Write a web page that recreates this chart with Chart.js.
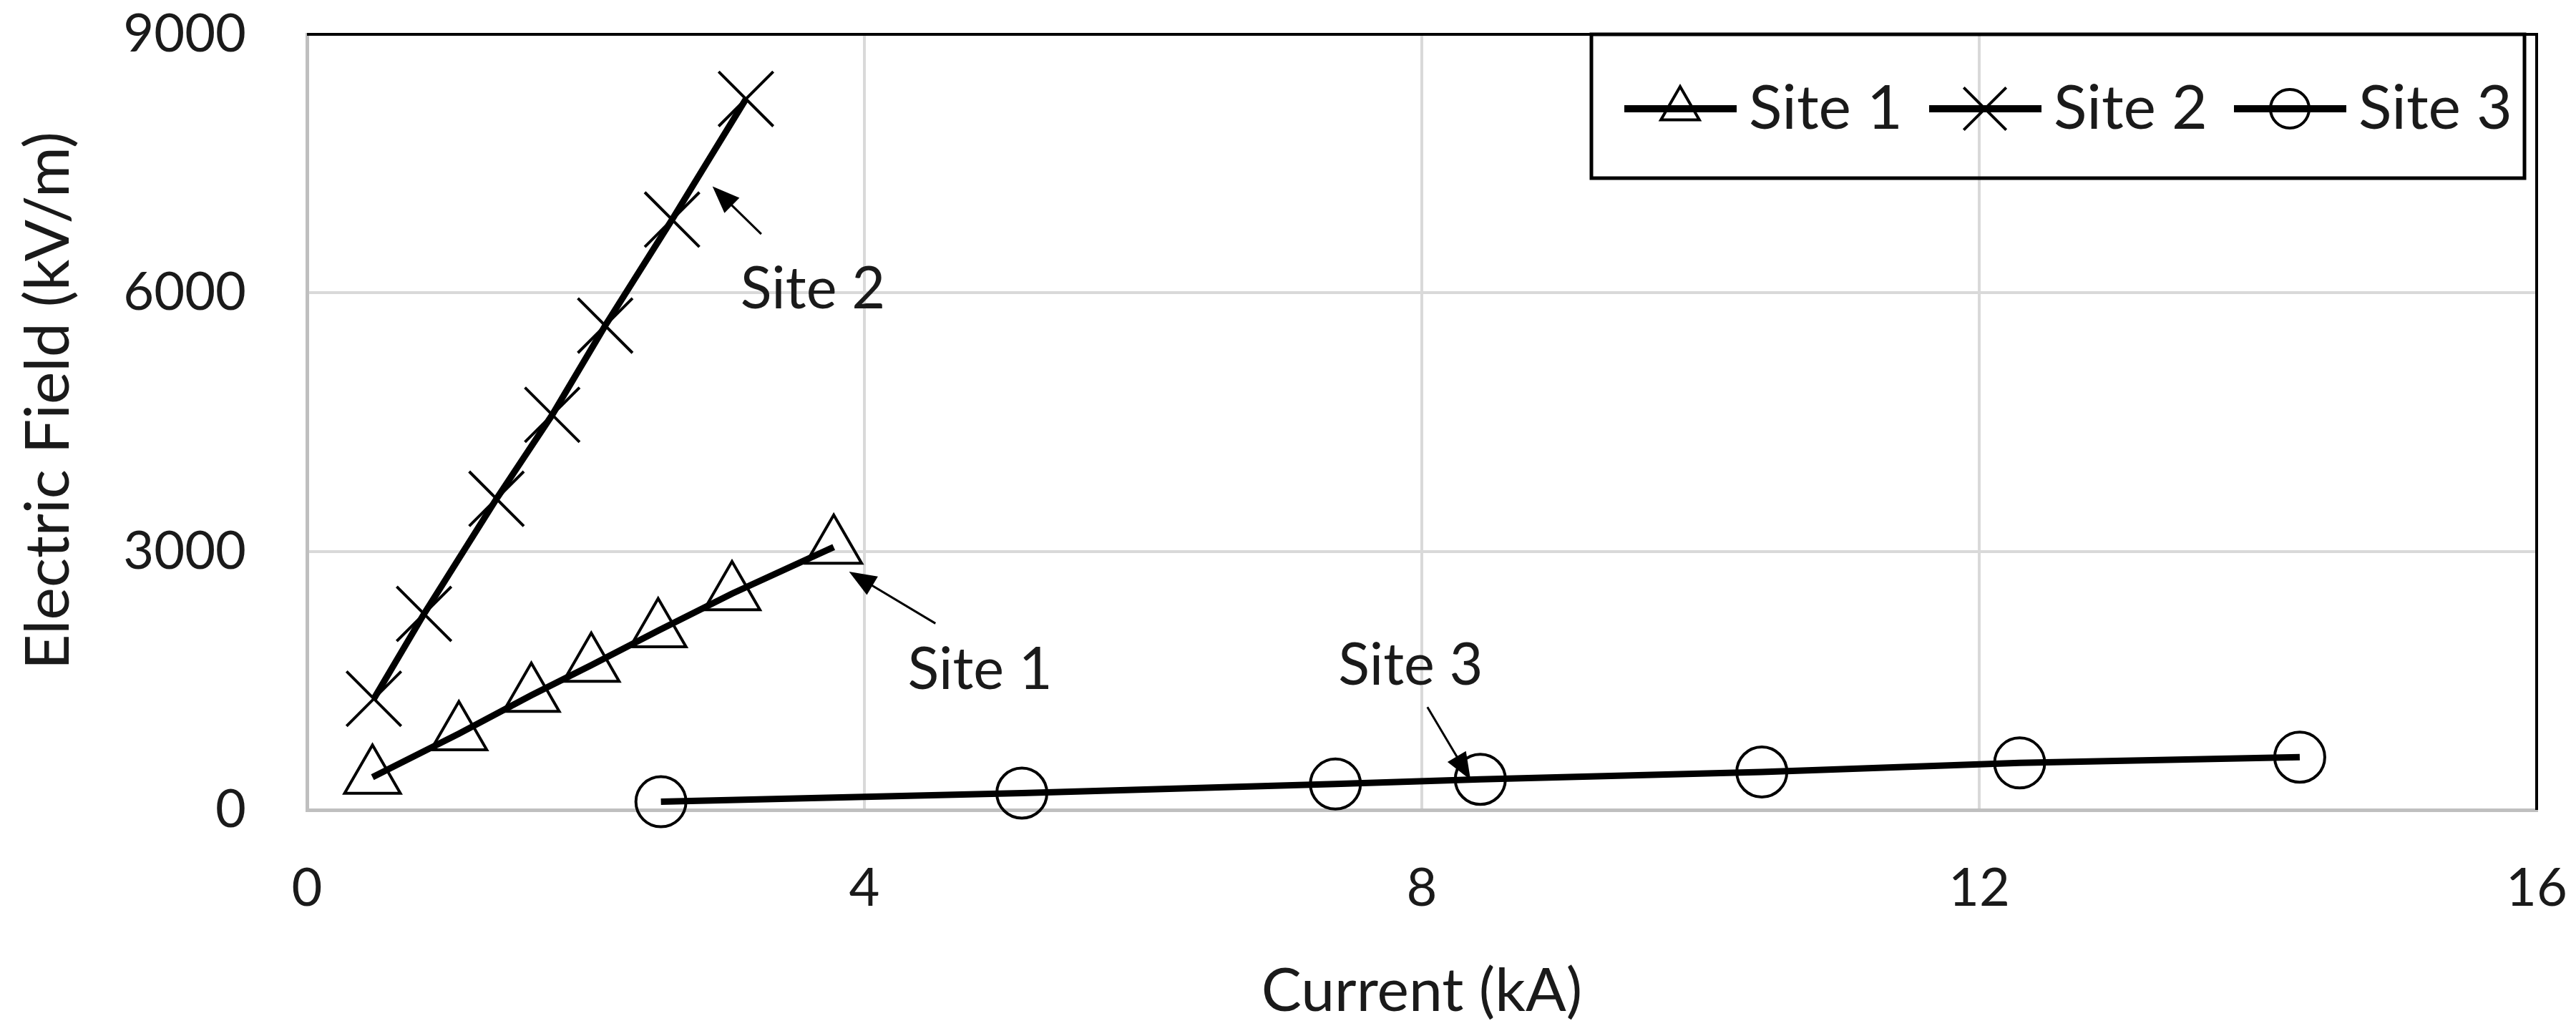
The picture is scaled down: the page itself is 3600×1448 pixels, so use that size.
<!DOCTYPE html>
<html>
<head>
<meta charset="utf-8">
<script src="https://cdn.jsdelivr.net/npm/chart.js@4.4.1/dist/chart.umd.min.js"></script>
<style>
  html, body { margin: 0; padding: 0; background: #fff; }
  canvas { display: block; }
</style>
</head>
<body>
<canvas id="myChart" width="3600" height="1448"></canvas>
<script>
// series (current in kA, electric field in kV/m)
const seriesNames = ['Site 1', 'Site 2', 'Site 3'];
const site1Current = [0.47, 1.09, 1.61, 2.04, 2.52, 3.05, 3.78];
const site1Field = [380, 885, 1330, 1680, 2080, 2510, 3050];
const site2Current = [0.48, 0.84, 1.36, 1.76, 2.14, 2.62, 3.15];
const site2Field = [1290, 2275, 3610, 4585, 5620, 6850, 8250];
const site3Current = [2.54, 5.13, 7.38, 8.42, 10.44, 12.29, 14.30];
const site3Field = [95, 195, 300, 355, 440, 545, 612];

const xTicks = [0, 4, 8, 12, 16];
const yTicks = [0, 3000, 6000, 9000];

// callout labels and their arrows (in data units)
const noteText = ['Site 1', 'Site 2', 'Site 3'];
const noteX = [4.83, 3.63, 7.92];
const noteY = [1620, 6040, 1670];
const arrowFromX = [4.51, 3.26, 8.04];
const arrowFromY = [2164, 6683, 1194];
const arrowToX = [3.89, 2.91, 8.35];
const arrowToY = [2764, 7235, 349];

const FONT = 'Lato';
const TEXT = '#1a1a1a';

const toPoints = (xs, ys) => xs.map((v, i) => ({ x: v, y: ys[i] }));

const styles = [
  { pointStyle: 'triangle', radius: 45, legendRadius: 31 },
  { pointStyle: 'crossRot', radius: 54, legendRadius: 42 },
  { pointStyle: 'circle', radius: 35, legendRadius: 27 }
];
const seriesData = [
  toPoints(site1Current, site1Field),
  toPoints(site2Current, site2Field),
  toPoints(site3Current, site3Field)
];

const datasets = seriesNames.map((name, i) => ({
  label: name,
  data: seriesData[i],
  showLine: true,
  borderColor: '#000',
  borderWidth: 9,
  pointStyle: styles[i].pointStyle,
  pointRadius: styles[i].radius,
  pointHoverRadius: styles[i].radius,
  pointBorderColor: '#000',
  pointBackgroundColor: 'rgba(0,0,0,0)',
  pointBorderWidth: 4,
  clip: false
}));

function drawArrow(ctx, x1, y1, x2, y2) {
  const a = Math.atan2(y2 - y1, x2 - x1);
  const len = 38, half = 15;
  ctx.beginPath();
  ctx.moveTo(x1, y1);
  ctx.lineTo(x2 - Math.cos(a) * len * 0.7, y2 - Math.sin(a) * len * 0.7);
  ctx.stroke();
  ctx.beginPath();
  ctx.moveTo(x2, y2);
  ctx.lineTo(x2 - len * Math.cos(a) + half * Math.sin(a), y2 - len * Math.sin(a) - half * Math.cos(a));
  ctx.lineTo(x2 - len * Math.cos(a) - half * Math.sin(a), y2 - len * Math.sin(a) + half * Math.cos(a));
  ctx.closePath();
  ctx.fill();
}

const extras = {
  id: 'extras',
  afterDatasetsDraw(chart) {
    const { ctx, chartArea, scales } = chart;
    const x = scales.x, y = scales.y;
    ctx.save();

    // black top / right frame
    ctx.strokeStyle = '#000';
    ctx.lineWidth = 4;
    ctx.beginPath();
    ctx.moveTo(chartArea.left, chartArea.top);
    ctx.lineTo(chartArea.right, chartArea.top);
    ctx.lineTo(chartArea.right, chartArea.bottom);
    ctx.stroke();

    // callouts
    ctx.fillStyle = '#000';
    ctx.lineWidth = 3;
    for (let i = 0; i < noteText.length; i++) {
      drawArrow(ctx,
        x.getPixelForValue(arrowFromX[i]), y.getPixelForValue(arrowFromY[i]),
        x.getPixelForValue(arrowToX[i]), y.getPixelForValue(arrowToY[i]));
    }
    ctx.fillStyle = TEXT;
    ctx.font = '81px ' + FONT;
    ctx.textAlign = 'center';
    ctx.textBaseline = 'middle';
    for (let i = 0; i < noteText.length; i++) {
      ctx.fillText(noteText[i], x.getPixelForValue(noteX[i]), y.getPixelForValue(noteY[i]));
    }

    // legend box (transparent, grid shows through)
    const boxL = 2224, boxT = chartArea.top, boxR = chartArea.right - 17, boxB = 249;
    ctx.strokeStyle = '#000';
    ctx.lineWidth = 5;
    ctx.strokeRect(boxL, boxT, boxR - boxL, boxB - boxT);
    const cy = 152;
    ctx.font = '86px ' + FONT;
    ctx.textAlign = 'left';
    for (let i = 0; i < seriesNames.length; i++) {
      const lx = 2270 + i * 426;
      ctx.lineWidth = 10;
      ctx.beginPath();
      ctx.moveTo(lx, cy);
      ctx.lineTo(lx + 157, cy);
      ctx.stroke();
      ctx.lineWidth = 4;
      ctx.fillStyle = 'rgba(0,0,0,0)';
      Chart.helpers.drawPoint(ctx, {
        pointStyle: styles[i].pointStyle,
        radius: styles[i].legendRadius,
        rotation: 0,
        borderWidth: 4
      }, lx + 78, cy);
      ctx.fillStyle = TEXT;
      ctx.fillText(seriesNames[i], lx + 174, cy);
    }

    // y axis title, sits a little above the plot's middle like the original
    ctx.translate(68, 560);
    ctx.rotate(-Math.PI / 2);
    ctx.font = '86px ' + FONT;
    ctx.textAlign = 'center';
    ctx.fillText('Electric Field (kV/m)', 0, 0);
    ctx.restore();
  }
};

const config = {
  type: 'scatter',
  data: { datasets: datasets },
  options: {
    responsive: false,
    animation: false,
    devicePixelRatio: 1,
    layout: { autoPadding: false, padding: 0 },
    plugins: {
      legend: { display: false },
      tooltip: { enabled: false }
    },
    scales: {
      x: {
        type: 'linear',
        min: xTicks[0],
        max: xTicks[xTicks.length - 1],
        afterBuildTicks: s => { s.ticks = xTicks.map(v => ({ value: v })); },
        // fixed axis band, room on the right for the last label
        afterFit: s => { s.height = 316; s.paddingRight = 55; s.paddingLeft = 0; },
        grid: { color: '#d9d9d9', lineWidth: 4, drawTicks: false },
        border: { color: '#bfbfbf', width: 5 },
        ticks: {
          color: TEXT, font: { family: FONT, size: 74 }, padding: 66, maxRotation: 0,
          callback: v => String(v)
        },
        title: {
          display: true,
          text: 'Current (kA)',
          color: TEXT,
          font: { family: FONT, size: 84 },
          padding: { top: 0, bottom: 12 }
        }
      },
      y: {
        type: 'linear',
        min: yTicks[0],
        max: yTicks[yTicks.length - 1],
        afterBuildTicks: s => { s.ticks = yTicks.map(v => ({ value: v })); },
        afterFit: s => { s.width = 429; s.paddingTop = 48; s.paddingBottom = 0; },
        grid: { color: '#d9d9d9', lineWidth: 4, drawTicks: false },
        border: { color: '#bfbfbf', width: 5 },
        ticks: {
          color: TEXT, font: { family: FONT, size: 74 }, padding: 85,
          callback: v => String(v)
        },
        title: { display: false }
      }
    }
  },
  plugins: [extras]
};

const myChart = new Chart(document.getElementById('myChart'), config);
</script>
</body>
</html>
